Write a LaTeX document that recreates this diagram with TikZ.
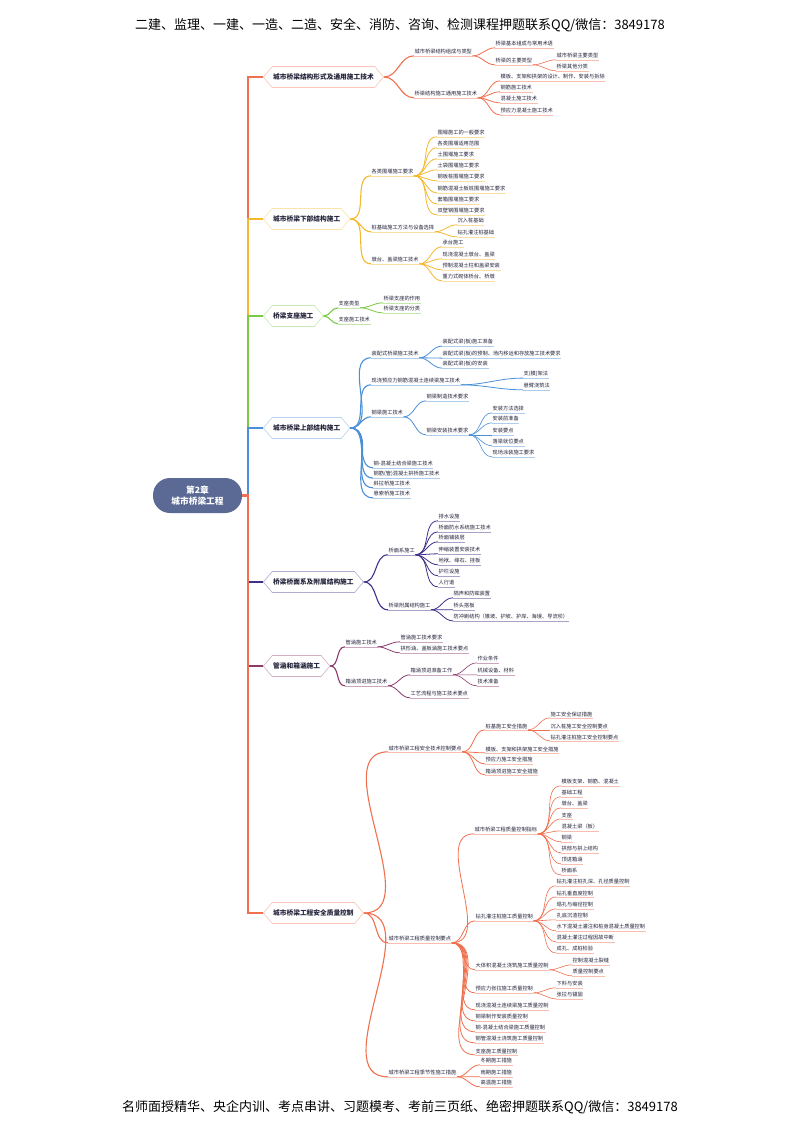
\documentclass[tikz,border=0pt]{standalone}
\usepackage{fontspec}
\setmainfont{Noto Sans CJK SC}
\usetikzlibrary{shapes.symbols,backgrounds}
\definecolor{ink}{HTML}{22223A}
\definecolor{coral}{HTML}{F0704F}
\definecolor{amber}{HTML}{F5B82E}
\definecolor{grass}{HTML}{7AC943}
\definecolor{sky}{HTML}{4A8FD8}
\definecolor{indigo}{HTML}{3E2F8A}
\definecolor{plum}{HTML}{8C3A6C}
\definecolor{slate}{HTML}{5A6A94}
\colorlet{bc}{coral}

\begin{document}
\begin{tikzpicture}[x=1pt,y=-1pt,
    every node/.style={text=ink},
    rootbox/.style={rounded corners=17pt,fill=slate,text=white,align=center,
      minimum width=89pt,minimum height=35pt,font=\fontsize{8.7}{11}\selectfont\bfseries},
    topic/.style={signal,signal to=east and west,signal pointer angle=100,draw=bc!40,
      fill=white,line width=.6pt,minimum height=21pt,inner xsep=1pt,anchor=west,
      font=\fontsize{6.7}{8}\selectfont\bfseries},
    sub/.style={anchor=west,inner xsep=.5pt,inner ysep=1.2pt,font=\fontsize{5.2}{6}\selectfont,
      append after command={\pgfextra{\let\ulnode\tikzlastnode}
        (\ulnode.south west) edge[draw=bc!45,line width=.45pt] (\ulnode.south east)}},
    trunk/.style={draw=#1,line width=2.2pt},
    lk1/.style={draw=bc,line width=1.1pt,out=0,in=180},
    lk2/.style={draw=bc,line width=.8pt,out=0,in=180},
    lk3/.style={draw=bc,line width=.6pt,out=0,in=180},
    branch/.style={/utils/exec={\colorlet{bc}{#1}}}]
\useasboundingbox (0,0) rectangle (800,1130);
\node[font=\fontsize{13}{15}\selectfont,text=black] (head) at (400,25)
  {二建、监理、一建、一造、二造、安全、消防、咨询、检测课程押题联系QQ/微信：3849178};
\node[font=\fontsize{13}{15}\selectfont,text=black] (foot) at (400,1107)
  {名师面授精华、央企内训、考点串讲、习题模考、考前三页纸、绝密押题联系QQ/微信：3849178};

\node[rootbox] (root) at (197.5,495.5) {第2章\\城市桥梁工程};
\coordinate (spine) at (248,495.5);

% 城市桥梁结构形式及通用施工技术
\begin{scope}[branch=coral]
\node[topic] (s1) at (263,77) {城市桥梁结构形式及通用施工技术};
\node[sub] (s1a) at (414,52) {城市桥梁结构组成与类型};
\node[sub] (s1a1) at (495,44) {桥梁基本组成与常用术语};
\node[sub] (s1a2) at (495,61) {桥梁的主要类型};
\node[sub] (s1a2a) at (556,56) {城市桥梁主要类型};
\node[sub] (s1a2b) at (556,67) {桥梁其他分类};
\node[sub] (s1b) at (414,94) {桥梁结构施工通用施工技术};
\node[sub] (s1b1) at (500,77) {模板、支架和拱架的设计、制作、安装与拆除};
\node[sub] (s1b2) at (500,88) {钢筋施工技术};
\node[sub] (s1b3) at (500,99) {混凝土施工技术};
\node[sub] (s1b4) at (500,111) {预应力混凝土施工技术};
\path (s1.east) edge[lk1] (s1a.south west) edge[lk1] (s1b.south west);
\path (s1a.south east) edge[lk2] (s1a1.south west) edge[lk2] (s1a2.south west);
\path (s1a2.south east) edge[lk3] (s1a2a.south west) edge[lk3] (s1a2b.south west);
\path (s1b.south east) edge[lk2] (s1b1.south west) edge[lk2] (s1b2.south west)
  edge[lk2] (s1b3.south west) edge[lk2] (s1b4.south west);
\end{scope}

% 城市桥梁下部结构施工
\begin{scope}[branch=amber]
\node[topic] (s2) at (263,219) {城市桥梁下部结构施工};
\node[sub] (s2a) at (371,172) {各类围堰施工要求};
\node[sub] (s2a1) at (437,133) {围堰施工的一般要求};
\node[sub] (s2a2) at (437,144) {各类围堰适用范围};
\node[sub] (s2a3) at (437,155) {土围堰施工要求};
\node[sub] (s2a4) at (437,166) {土袋围堰施工要求};
\node[sub] (s2a5) at (437,177) {钢板桩围堰施工要求};
\node[sub] (s2a6) at (437,189) {钢筋混凝土板桩围堰施工要求};
\node[sub] (s2a7) at (437,200) {套箱围堰施工要求};
\node[sub] (s2a8) at (437,211) {双壁钢围堰施工要求};
\node[sub] (s2b) at (371,228) {桩基础施工方法与设备选择};
\node[sub] (s2b1) at (457,221) {沉入桩基础};
\node[sub] (s2b2) at (457,233) {钻孔灌注桩基础};
\node[sub] (s2c) at (371,260) {墩台、盖梁施工技术};
\node[sub] (s2c1) at (442,243) {承台施工};
\node[sub] (s2c2) at (442,255) {现浇混凝土墩台、盖梁};
\node[sub] (s2c3) at (442,266) {预制混凝土柱和盖梁安装};
\node[sub] (s2c4) at (442,277) {重力式砌体桥台、桥墩};
\path (s2.east) edge[lk1] (s2a.south west) edge[lk1] (s2b.south west) edge[lk1] (s2c.south west);
\path (s2a.south east) edge[lk2] (s2a1.south west) edge[lk2] (s2a2.south west)
  edge[lk2] (s2a3.south west) edge[lk2] (s2a4.south west) edge[lk2] (s2a5.south west)
  edge[lk2] (s2a6.south west) edge[lk2] (s2a7.south west) edge[lk2] (s2a8.south west);
\path (s2b.south east) edge[lk2] (s2b1.south west) edge[lk2] (s2b2.south west);
\path (s2c.south east) edge[lk2] (s2c1.south west) edge[lk2] (s2c2.south west)
  edge[lk2] (s2c3.south west) edge[lk2] (s2c4.south west);
\end{scope}

% 桥梁支座施工
\begin{scope}[branch=grass]
\node[topic] (s3) at (263,316) {桥梁支座施工};
\node[sub] (s3a) at (338,304) {支座类型};
\node[sub] (s3a1) at (383,299) {桥梁支座的作用};
\node[sub] (s3a2) at (383,309) {桥梁支座的分类};
\node[sub] (s3b) at (338,320) {支座施工技术};
\path (s3.east) edge[lk1] (s3a.south west) edge[lk1] (s3b.south west);
\path (s3a.south east) edge[lk2] (s3a1.south west) edge[lk2] (s3a2.south west);
\end{scope}

% 城市桥梁上部结构施工
\begin{scope}[branch=sky]
\node[topic] (s4) at (263,428) {城市桥梁上部结构施工};
\node[sub] (s4a) at (371,354) {装配式桥梁施工技术};
\node[sub] (s4a1) at (442,342) {装配式梁(板)施工准备};
\node[sub] (s4a2) at (442,354) {装配式梁(板)的预制、场内移运和存放施工技术要求};
\node[sub] (s4a3) at (442,364) {装配式梁(板)的安装};
\node[sub] (s4b) at (371,381) {现浇预应力钢筋混凝土连续梁施工技术};
\node[sub] (s4b1) at (523,374) {支(模)架法};
\node[sub] (s4b2) at (523,386) {悬臂浇筑法};
\node[sub] (s4c) at (371,413) {钢梁施工技术};
\node[sub] (s4c1) at (426,397) {钢梁制造技术要求};
\node[sub] (s4c2) at (426,431) {钢梁安装技术要求};
\node[sub] (s4c2a) at (492,409) {安装方法选择};
\node[sub] (s4c2b) at (492,419) {安装前准备};
\node[sub] (s4c2c) at (492,431) {安装要点};
\node[sub] (s4c2d) at (492,442) {落梁就位要点};
\node[sub] (s4c2e) at (492,453) {现场涂装施工要求};
\node[sub] (s4d) at (373,464) {钢-混凝土结合梁施工技术};
\node[sub] (s4e) at (373,474) {钢筋(管)混凝土拱桥施工技术};
\node[sub] (s4f) at (373,484) {斜拉桥施工技术};
\node[sub] (s4g) at (373,494) {悬索桥施工技术};
\path (s4.east) edge[lk1] (s4a.south west) edge[lk1] (s4b.south west) edge[lk1] (s4c.south west)
  edge[lk1] (s4d.south west) edge[lk1] (s4e.south west) edge[lk1] (s4f.south west)
  edge[lk1] (s4g.south west);
\path (s4a.south east) edge[lk2] (s4a1.south west) edge[lk2] (s4a2.south west)
  edge[lk2] (s4a3.south west);
\path (s4b.south east) edge[lk2] (s4b1.south west) edge[lk2] (s4b2.south west);
\path (s4c.south east) edge[lk2] (s4c1.south west) edge[lk2] (s4c2.south west);
\path (s4c2.south east) edge[lk3] (s4c2a.south west) edge[lk3] (s4c2b.south west)
  edge[lk3] (s4c2c.south west) edge[lk3] (s4c2d.south west) edge[lk3] (s4c2e.south west);
\end{scope}

% 桥梁桥面系及附属结构施工
\begin{scope}[branch=indigo]
\node[topic] (s5) at (263,582) {桥梁桥面系及附属结构施工};
\node[sub] (s5a) at (388,551) {桥面系施工};
\node[sub] (s5a1) at (438,517) {排水设施};
\node[sub] (s5a2) at (438,528) {桥面防水系统施工技术};
\node[sub] (s5a3) at (438,538) {桥面铺装层};
\node[sub] (s5a4) at (438,550) {伸缩装置安装技术};
\node[sub] (s5a5) at (438,561) {地袱、缘石、挂板};
\node[sub] (s5a6) at (438,572) {护栏设施};
\node[sub] (s5a7) at (438,583) {人行道};
\node[sub] (s5b) at (388,606) {桥梁附属结构施工};
\node[sub] (s5b1) at (453,594) {隔声和防眩装置};
\node[sub] (s5b2) at (453,606) {桥头搭板};
\node[sub] (s5b3) at (453,617) {防冲刷结构（锥坡、护坡、护岸、海墁、导流坝）};
\path (s5.east) edge[lk1] (s5a.south west) edge[lk1] (s5b.south west);
\path (s5a.south east) edge[lk2] (s5a1.south west) edge[lk2] (s5a2.south west)
  edge[lk2] (s5a3.south west) edge[lk2] (s5a4.south west) edge[lk2] (s5a5.south west)
  edge[lk2] (s5a6.south west) edge[lk2] (s5a7.south west);
\path (s5b.south east) edge[lk2] (s5b1.south west) edge[lk2] (s5b2.south west)
  edge[lk2] (s5b3.south west);
\end{scope}

% 管涵和箱涵施工
\begin{scope}[branch=plum]
\node[topic] (s6) at (263,666) {管涵和箱涵施工};
\node[sub] (s6a) at (345,643) {管涵施工技术};
\node[sub] (s6a1) at (400,638) {管涵施工技术要求};
\node[sub] (s6a2) at (400,649) {拱形涵、盖板涵施工技术要点};
\node[sub] (s6b) at (345,682) {箱涵顶进施工技术};
\node[sub] (s6b1) at (410,671) {箱涵顶进准备工作};
\node[sub] (s6b1a) at (477,659) {作业条件};
\node[sub] (s6b1b) at (477,671) {机械设备、材料};
\node[sub] (s6b1c) at (477,682) {技术准备};
\node[sub] (s6b2) at (410,694) {工艺流程与施工技术要点};
\path (s6.east) edge[lk1] (s6a.south west) edge[lk1] (s6b.south west);
\path (s6a.south east) edge[lk2] (s6a1.south west) edge[lk2] (s6a2.south west);
\path (s6b.south east) edge[lk2] (s6b1.south west) edge[lk2] (s6b2.south west);
\path (s6b1.south east) edge[lk3] (s6b1a.south west) edge[lk3] (s6b1b.south west)
  edge[lk3] (s6b1c.south west);
\end{scope}

% 城市桥梁工程安全质量控制
\begin{scope}[branch=coral]
\node[topic] (s7) at (263,913) {城市桥梁工程安全质量控制};
\node[sub] (s7a) at (388,748) {城市桥梁工程安全技术控制要点};
\node[sub] (s7a1) at (485,726) {桩基施工安全措施};
\node[sub] (s7a1a) at (550,714) {施工安全保证措施};
\node[sub] (s7a1b) at (550,726) {沉入桩施工安全控制要点};
\node[sub] (s7a1c) at (550,737) {钻孔灌注桩施工安全控制要点};
\node[sub] (s7a2) at (485,749) {模板、支架和拱架施工安全措施};
\node[sub] (s7a3) at (485,760) {预应力施工安全措施};
\node[sub] (s7a4) at (485,771) {箱涵顶进施工安全措施};
\node[sub] (s7b) at (388,939) {城市桥梁工程质量控制要点};
\node[sub] (s7b1) at (474,830) {城市桥梁工程质量控制指标};
\node[sub] (s7b1a) at (561,782) {模板支架、钢筋、混凝土};
\node[sub] (s7b1b) at (561,793) {基础工程};
\node[sub] (s7b1c) at (561,804) {墩台、盖梁};
\node[sub] (s7b1d) at (561,815) {支座};
\node[sub] (s7b1e) at (561,827) {混凝土梁（板）};
\node[sub] (s7b1f) at (561,838) {钢梁};
\node[sub] (s7b1g) at (561,849) {拱部与拱上结构};
\node[sub] (s7b1h) at (561,860) {顶进箱涵};
\node[sub] (s7b1i) at (561,871) {桥面系};
\node[sub] (s7b2) at (475,917) {钻孔灌注桩施工质量控制};
\node[sub] (s7b2a) at (556,882) {钻孔灌注桩孔深、孔径质量控制};
\node[sub] (s7b2b) at (556,893) {钻孔垂直度控制};
\node[sub] (s7b2c) at (556,905) {塌孔与缩径控制};
\node[sub] (s7b2d) at (556,916) {孔底沉渣控制};
\node[sub] (s7b2e) at (556,927) {水下混凝土灌注和桩身混凝土质量控制};
\node[sub] (s7b2f) at (556,938) {混凝土灌注过程因故中断};
\node[sub] (s7b2g) at (556,949) {成孔、成桩检验};
\node[sub] (s7b3) at (475,966) {大体积混凝土浇筑施工质量控制};
\node[sub] (s7b3a) at (572,961) {控制混凝土裂缝};
\node[sub] (s7b3b) at (572,972) {质量控制要点};
\node[sub] (s7b4) at (475,989) {预应力张拉施工质量控制};
\node[sub] (s7b4a) at (556,984) {下料与安装};
\node[sub] (s7b4b) at (556,995) {张拉与锚固};
\node[sub] (s7b5) at (475,1006) {现浇混凝土连续梁施工质量控制};
\node[sub] (s7b6) at (475,1017) {钢梁制作安装质量控制};
\node[sub] (s7b7) at (475,1028) {钢-混凝土结合梁施工质量控制};
\node[sub] (s7b8) at (475,1039) {钢管混凝土浇筑施工质量控制};
\node[sub] (s7b9) at (475,1051) {支座施工质量控制};
\node[sub] (s7c) at (388,1073) {城市桥梁工程季节性施工措施};
\node[sub] (s7c1) at (480,1061) {冬期施工措施};
\node[sub] (s7c2) at (480,1073) {雨期施工措施};
\node[sub] (s7c3) at (480,1083) {高温施工措施};
\path (s7.east) edge[lk1] (s7a.south west) edge[lk1] (s7b.south west) edge[lk1] (s7c.south west);
\path (s7a.south east) edge[lk2] (s7a1.south west) edge[lk2] (s7a2.south west)
  edge[lk2] (s7a3.south west) edge[lk2] (s7a4.south west);
\path (s7a1.south east) edge[lk3] (s7a1a.south west) edge[lk3] (s7a1b.south west)
  edge[lk3] (s7a1c.south west);
\path (s7b.south east) edge[lk2] (s7b1.south west) edge[lk2] (s7b2.south west)
  edge[lk2] (s7b3.south west) edge[lk2] (s7b4.south west) edge[lk2] (s7b5.south west)
  edge[lk2] (s7b6.south west) edge[lk2] (s7b7.south west) edge[lk2] (s7b8.south west)
  edge[lk2] (s7b9.south west);
\path (s7b1.south east) edge[lk3] (s7b1a.south west) edge[lk3] (s7b1b.south west)
  edge[lk3] (s7b1c.south west) edge[lk3] (s7b1d.south west) edge[lk3] (s7b1e.south west)
  edge[lk3] (s7b1f.south west) edge[lk3] (s7b1g.south west) edge[lk3] (s7b1h.south west)
  edge[lk3] (s7b1i.south west);
\path (s7b2.south east) edge[lk3] (s7b2a.south west) edge[lk3] (s7b2b.south west)
  edge[lk3] (s7b2c.south west) edge[lk3] (s7b2d.south west) edge[lk3] (s7b2e.south west)
  edge[lk3] (s7b2f.south west) edge[lk3] (s7b2g.south west);
\path (s7b3.south east) edge[lk3] (s7b3a.south west) edge[lk3] (s7b3b.south west);
\path (s7b4.south east) edge[lk3] (s7b4a.south west) edge[lk3] (s7b4b.south west);
\path (s7c.south east) edge[lk2] (s7c1.south west) edge[lk2] (s7c2.south west)
  edge[lk2] (s7c3.south west);
\end{scope}

\begin{scope}[on background layer]
\fill[white] (0,0) rectangle (800,1130);
\draw[trunk=coral] (root.east) -- (spine) |- (s1.west);
\draw[trunk=amber] (spine) |- (s2.west);
\draw[trunk=grass] (spine) |- (s3.west);
\draw[trunk=sky] (spine) |- (s4.west);
\draw[trunk=indigo] (spine) |- (s5.west);
\draw[trunk=plum] (spine) |- (s6.west);
\draw[trunk=coral] (root.east) -- (spine) |- (s7.west);
\end{scope}
\end{tikzpicture}
\end{document}
